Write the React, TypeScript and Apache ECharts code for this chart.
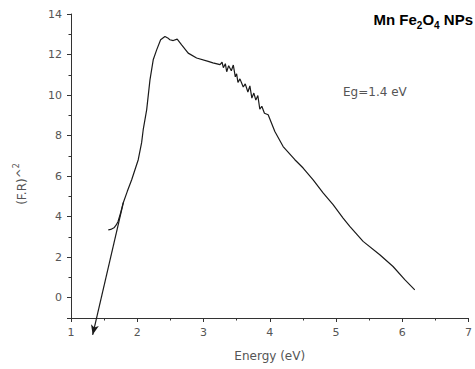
import React, { useEffect, useRef } from "react";
import * as echarts from "echarts";

// (Energy eV, (F.R)^2)
const spectrum: [number, number][] = [
  [1.563, 3.35], [1.6, 3.37], [1.649, 3.45], [1.68, 3.58], [1.709, 3.75],
  [1.75, 4.2], [1.789, 4.69], [1.85, 5.25], [1.916, 5.82], [2.015, 6.81],
  [2.066, 7.65], [2.09, 8.29], [2.142, 9.27], [2.192, 10.75], [2.241, 11.74],
  [2.293, 12.23], [2.353, 12.73], [2.418, 12.89], [2.46, 12.82], [2.492, 12.73],
  [2.543, 12.69], [2.603, 12.76], [2.67, 12.48], [2.769, 12.07], [2.896, 11.83],
  [3.071, 11.66], [3.142, 11.59], [3.25, 11.5], [3.28, 11.62], [3.3, 11.35],
  [3.33, 11.55], [3.35, 11.15], [3.38, 11.45], [3.42, 11.2], [3.45, 11.48],
  [3.48, 10.9], [3.5, 11.05], [3.52, 10.62], [3.55, 10.8], [3.6, 10.4],
  [3.63, 10.55], [3.67, 10.15], [3.7, 10.45], [3.73, 9.85], [3.76, 10.1],
  [3.79, 9.75], [3.82, 9.98], [3.85, 9.3], [3.88, 9.45], [3.92, 9.1],
  [3.976, 9.03], [4.077, 8.2], [4.202, 7.46], [4.379, 6.81], [4.504, 6.4],
  [4.655, 5.82], [4.805, 5.17], [4.956, 4.59], [5.107, 3.93], [5.208, 3.52],
  [5.409, 2.78], [5.661, 2.12], [5.861, 1.54], [6.038, 0.89], [6.189, 0.39],
];

// extrapolated band-gap tangent (arrow tip first)
const tangentLine: [number, number][] = [
  [1.327, -1.83],
  [1.79, 4.69],
];

const xRange = [1, 7];
const yRange = [-1, 14];
const titleParts = ["Mn Fe", "2", "O", "4", " NPs"];
const eqLabel = "Eg=1.4 eV";
const xName = "Energy (eV)";
const yNameParts = ["(F.R)^", "2"];

export default function App() {
  const ref = useRef<HTMLDivElement>(null);

  useEffect(() => {
    if (!ref.current) return;
    document.body.style.margin = "0";
    const chart = echarts.init(ref.current, null, { renderer: "svg" });
    const axisColor = "#333";
    const labelColor = "#555";
    const font = "DejaVu Sans";
    chart.setOption({
      animation: false,
      backgroundColor: "#fff",
      grid: { left: 71, right: 6, top: 14, bottom: 51 },
      xAxis: {
        type: "value",
        min: xRange[0],
        max: xRange[1],
        interval: 1,
        name: xName,
        nameLocation: "middle",
        nameGap: 32,
        nameTextStyle: { color: labelColor, fontSize: 12, fontFamily: font },
        axisLine: { show: true, onZero: false, lineStyle: { color: axisColor, width: 1 } },
        axisTick: { show: true, length: 4, lineStyle: { color: axisColor } },
        minorTick: { show: true, splitNumber: 2, length: 2.5, lineStyle: { color: axisColor } },
        axisLabel: { color: labelColor, fontSize: 11, fontFamily: font, margin: 9 },
        splitLine: { show: false },
      },
      yAxis: {
        type: "value",
        min: yRange[0],
        max: yRange[1],
        splitNumber: 7,
        axisLine: { show: true, lineStyle: { color: axisColor, width: 1 } },
        axisTick: { show: true, length: 4, lineStyle: { color: axisColor } },
        minorTick: { show: true, splitNumber: 2, length: 2.5, lineStyle: { color: axisColor } },
        axisLabel: {
          color: labelColor,
          fontSize: 11,
          fontFamily: font,
          margin: 9,
          formatter: (v: number) => (v < 0 ? "" : String(v)),
        },
        splitLine: { show: false },
      },
      graphic: [
        {
          type: "text",
          right: 2,
          top: 12,
          style: {
            text: `{a|${titleParts[0]}}{s|${titleParts[1]}}{a|${titleParts[2]}}{s|${titleParts[3]}}{a|${titleParts[4]}}`,
            rich: {
              a: { fontSize: 15, fontWeight: "bold", fontFamily: "Liberation Sans", fill: "#000", verticalAlign: "top" },
              s: { fontSize: 10, fontWeight: "bold", fontFamily: "Liberation Sans", fill: "#000", verticalAlign: "top", padding: [8, 0, 0, 0] },
            },
          },
        },
        {
          type: "text",
          left: 343,
          top: 86,
          style: { text: eqLabel, fontSize: 12, fontFamily: font, fill: labelColor },
        },
        {
          type: "text",
          x: 20,
          y: 184,
          rotation: Math.PI / 2,
          style: {
            text: `{a|${yNameParts[0]}}{b|${yNameParts[1]}}`,
            align: "center",
            verticalAlign: "middle",
            rich: {
              a: { fontSize: 12, fontFamily: font, fill: labelColor, verticalAlign: "top", padding: [3, 0, 0, 0] },
              b: { fontSize: 8, fontFamily: font, fill: labelColor, verticalAlign: "top" },
            },
          },
        },
      ],
      series: [
        {
          type: "line",
          data: spectrum,
          showSymbol: false,
          lineStyle: { color: "#1a1a1a", width: 1.2 },
        },
        {
          type: "line",
          clip: false,
          showSymbol: true,
          silent: true,
          data: [
            { value: tangentLine[0], symbol: "arrow", symbolSize: [6, 10], symbolRotate: 167, itemStyle: { color: "#1a1a1a" } },
            { value: tangentLine[1], symbol: "none" },
          ],
          lineStyle: { color: "#1a1a1a", width: 1.2 },
        },
      ],
    });
    return () => chart.dispose();
  }, []);

  return <div ref={ref} style={{ width: 475, height: 369 }} />;
}
